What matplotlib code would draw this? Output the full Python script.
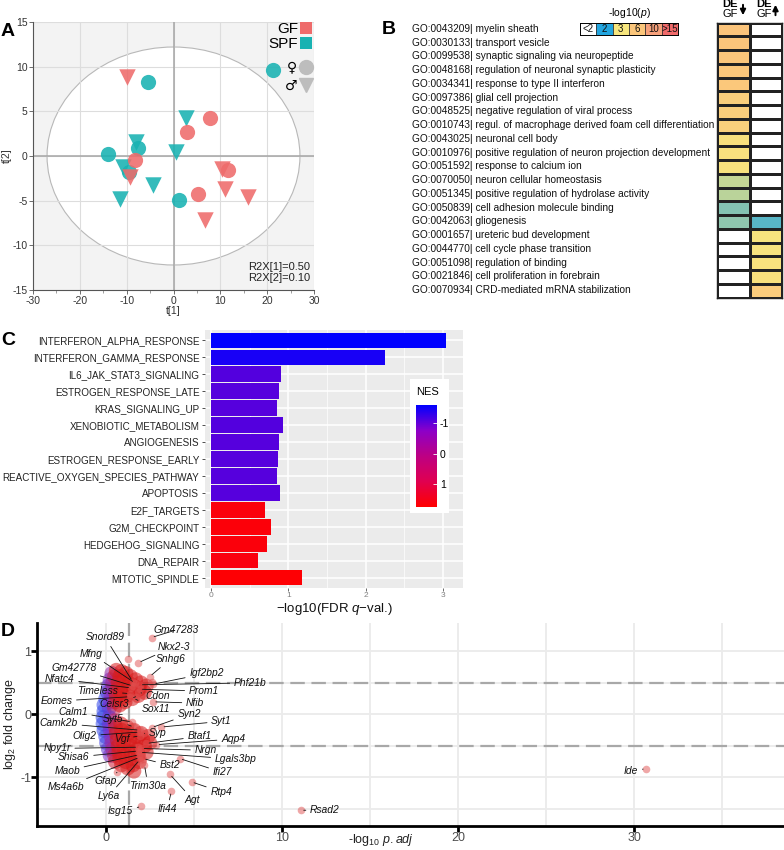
import numpy as np
import matplotlib
matplotlib.use("Agg")
import matplotlib.pyplot as plt
import matplotlib.cm as cm
from matplotlib.colors import LinearSegmentedColormap, Normalize, ListedColormap
from matplotlib.patches import Ellipse, Patch, FancyArrowPatch
from matplotlib.lines import Line2D
from matplotlib.transforms import blended_transform_factory

plt.rcParams['font.family'] = ['Liberation Sans', 'DejaVu Sans']
plt.rcParams['mathtext.fontset'] = 'custom'
plt.rcParams['mathtext.rm'] = 'Liberation Sans'
plt.rcParams['mathtext.it'] = 'Liberation Sans:italic'
plt.rcParams['mathtext.bf'] = 'Liberation Sans:bold'
plt.rcParams['axes.unicode_minus'] = False

# ---------------- Panel A data (PCA scores) ----------------
pca_t1 = [-9.9, -5.5, 2.7, 7.8, 2.8, -8.0, -7.6, -14.0, 0.6, -8.3, -10.8, -9.4,
          -9.3, 11.6, 10.4, -4.3, 11.1, 15.9, 5.2, 1.1, -11.5, 6.8, 21.2]
pca_t2 = [8.8, 8.3, 4.2, 4.2, 2.7, 1.6, 0.9, 0.2, 0.5, -0.45, -1.2, -1.75,
          -2.3, -1.6, -1.5, -3.2, -3.7, -4.6, -4.2, -4.9, -4.8, -7.2, 9.6]
pca_group = ['GF', 'SPF', 'SPF', 'GF', 'GF', 'SPF', 'SPF', 'SPF', 'SPF', 'GF', 'SPF', 'SPF',
             'GF', 'GF', 'GF', 'SPF', 'GF', 'GF', 'GF', 'SPF', 'SPF', 'GF', 'SPF']
pca_sex = ['M', 'F', 'M', 'F', 'F', 'M', 'F', 'F', 'M', 'F', 'M', 'F',
           'M', 'F', 'M', 'M', 'M', 'M', 'F', 'F', 'M', 'M', 'F']
hotelling_t1 = 27.0
hotelling_t2 = 12.2
r2x = [0.50, 0.10]

# ---------------- Panel B data (GO enrichment, -log10 p) ----------------
go_ids = ['GO:0043209', 'GO:0030133', 'GO:0099538', 'GO:0048168', 'GO:0034341',
          'GO:0097386', 'GO:0048525', 'GO:0010743', 'GO:0043025', 'GO:0010976',
          'GO:0051592', 'GO:0070050', 'GO:0051345', 'GO:0050839', 'GO:0042063',
          'GO:0001657', 'GO:0044770', 'GO:0051098', 'GO:0021846', 'GO:0070934']
go_terms = ['myelin sheath', 'transport vesicle', 'synaptic signaling via neuropeptide',
            'regulation of neuronal synaptic plasticity', 'response to type II interferon',
            'glial cell projection', 'negative regulation of viral process',
            'regul. of macrophage derived foam cell differentiation', 'neuronal cell body',
            'positive regulation of neuron projection development', 'response to calcium ion',
            'neuron cellular homeostasis', 'positive regulation of hydrolase activity',
            'cell adhesion molecule binding', 'gliogenesis', 'ureteric bud development',
            'cell cycle phase transition', 'regulation of binding',
            'cell proliferation in forebrain', 'CRD-mediated mRNA stabilization']
go_down = [6.2, 6.1, 6.0, 5.9, 5.8, 5.3, 5.2, 5.0, 3.6, 3.5, 3.4, 2.8, 2.75, 2.5, 2.55,
           0, 0, 0, 0, 0]
go_up = [0, 0, 0, 0, 0, 0, 0, 0, 0, 0, 0, 0, 0, 0, 2.3, 3.2, 3.3, 3.4, 3.6, 5.5]
p_levels = [2, 3, 6, 10, 15]
p_labels = ['<2', '2', '3', '6', '10', '>15']
p_colors = ['#ffffff', '#22a5df', '#f7e67e', '#fbc67b', '#f7a17b', '#f06a6a']

# ---------------- Panel C data (GSEA hallmarks) ----------------
hallmarks = ['INTERFERON_ALPHA_RESPONSE', 'INTERFERON_GAMMA_RESPONSE', 'IL6_JAK_STAT3_SIGNALING',
             'ESTROGEN_RESPONSE_LATE', 'KRAS_SIGNALING_UP', 'XENOBIOTIC_METABOLISM',
             'ANGIOGENESIS', 'ESTROGEN_RESPONSE_EARLY', 'REACTIVE_OXYGEN_SPECIES_PATHWAY',
             'APOPTOSIS', 'E2F_TARGETS', 'G2M_CHECKPOINT', 'HEDGEHOG_SIGNALING',
             'DNA_REPAIR', 'MITOTIC_SPINDLE']
fdr_q = [3.04, 2.25, 0.905, 0.875, 0.853, 0.926, 0.875, 0.861, 0.853, 0.887,
         0.698, 0.775, 0.724, 0.611, 1.176]
nes = [-1.6, -1.45, -1.1, -1.08, -1.08, -1.1, -1.08, -1.08, -1.08, -1.08,
       1.62, 1.65, 1.62, 1.6, 1.7]
nes_range = [-1.6, 1.75]

# ---------------- Panel D data (volcano, rotated) ----------------
cloud_x = [-0.1, -0.1, 0.0, 0.1, 0.15, 0.25, 0.35,
           0.2, 0.25, 0.3, 0.35, 0.4, 0.5, 0.6,
           0.5, 0.55, 0.6, 0.65, 0.7, 0.8, 0.9,
           0.8, 0.85, 0.9, 1.0, 1.05, 1.15,
           1.1, 1.2, 1.25, 1.3, 1.4,
           1.5, 1.55, 1.6, 1.7,
           1.85, 1.9, 2.0,
           2.2, 2.3,
           -0.15, -0.15, -0.1, 0.0, 0.05, 0.15, 0.25,
           0.2, 0.2, 0.25, 0.3, 0.35, 0.4, 0.5, 0.55,
           0.5, 0.55, 0.6, 0.65, 0.7, 0.75, 0.8, 0.9,
           0.85, 0.9, 0.95, 1.0, 1.05, 1.1, 1.15, 1.25,
           1.2, 1.3, 1.35, 1.4, 1.45, 1.5, 1.55, 1.6,
           1.6, 1.7, 1.75, 1.8, 1.85, 1.9,
           2.0, 2.1, 2.2, 2.3,
           2.4, 2.5]
cloud_y = [0.05, 0.15, 0.25, 0.35, 0.45, 0.55, 0.65,
           0.1, 0.2, 0.3, 0.4, 0.5, 0.6, 0.7,
           0.1, 0.2, 0.3, 0.4, 0.5, 0.6, 0.68,
           0.15, 0.25, 0.35, 0.45, 0.55, 0.65,
           0.2, 0.3, 0.4, 0.5, 0.6,
           0.25, 0.35, 0.45, 0.55,
           0.3, 0.4, 0.5,
           0.35, 0.45,
           -0.05, -0.15, -0.25, -0.35, -0.45, -0.55, -0.65,
           -0.05, -0.15, -0.25, -0.35, -0.45, -0.55, -0.65, -0.75,
           -0.1, -0.2, -0.3, -0.4, -0.5, -0.6, -0.7, -0.8,
           -0.15, -0.25, -0.35, -0.45, -0.55, -0.65, -0.75, -0.85,
           -0.2, -0.3, -0.4, -0.5, -0.6, -0.7, -0.8, -0.9,
           -0.25, -0.35, -0.45, -0.55, -0.65, -0.75,
           -0.3, -0.4, -0.5, -0.6,
           -0.35, -0.45]
extra_x = [1.27, 2.6]
extra_y = [0.88, 0.52]
genes = ['Gm47283', 'Snord89', 'Nkx2-3', 'Mfng', 'Snhg6', 'Gm42778', 'Igf2bp2', 'Nfatc4',
         'Phf21b', 'Prom1', 'Timeless', 'Cdon', 'Eomes', 'Nfib', 'Celsr3', 'Sox11', 'Calm1',
         'Syn2', 'Syt5', 'Syt1', 'Camk2b', 'Syp', 'Olig2', 'Btaf1', 'Vgf', 'Aqp4', 'Npy1r',
         'Nrgn', 'Shisa6', 'Lgals3bp', 'Bst2', 'Maob', 'Ifi27', 'Gfap', 'Ms4a6b', 'Trim30a',
         'Rtp4', 'Ly6a', 'Agt', 'Ifi44', 'Isg15', 'Ide', 'Rsad2']
gene_padj = [2.6, 1.53, 1.85, 1.65, 2.5, 1.55, 2.69, 1.45,
             1.93, 1.93, 1.36, 1.85, 1.36, 2.69, 1.7, 1.7, 1.5,
             2.6, 1.6, 3.16, 1.93, 2.2, 1.93, 2.31, 1.93, 2.88, 1.85,
             2.03, 1.85, 1.93, 2.12, 1.9, 4.2, 0.64, 1.93, 2.2,
             4.87, 1.93, 3.64, 3.73, 2.03, 30.66, 11.08]
gene_lfc = [1.22, 0.52, 0.82, 0.50, 0.60, 0.45, 0.48, 0.42,
            0.47, 0.40, 0.33, 0.35, 0.28, 0.20, 0.28, 0.24, -0.12,
            -0.21, -0.2, -0.2, -0.25, -0.3, -0.28, -0.46, -0.34, -0.48, -0.52,
            -0.54, -0.58, -0.6, -0.7, -0.64, -0.70, -0.92, -0.68, -0.8,
            -1.07, -0.72, -0.95, -1.22, -1.46, -0.86, -1.52]
label_x = [4.0, -0.03, 3.85, -0.81, 3.68, -1.81, 5.72, -2.61,
           8.2, 5.57, -0.44, 2.97, -2.8, 5.07, 0.51, 2.83, -1.86,
           4.73, 0.44, 6.57, -2.66, 2.95, -1.19, 5.32, 0.91, 7.23, -2.76,
           5.67, -1.81, 7.38, 3.64, -2.19, 6.62, -0.01, -2.26, 2.4,
           6.55, 0.18, 4.94, 3.49, 0.84, 29.82, 12.44]
label_y = [1.34, 1.22, 1.07, 0.96, 0.88, 0.74, 0.65, 0.56,
           0.5, 0.37, 0.37, 0.29, 0.21, 0.18, 0.16, 0.09, 0.04,
           0.0, -0.08, -0.11, -0.14, -0.3, -0.34, -0.35, -0.39, -0.39, -0.54,
           -0.57, -0.68, -0.71, -0.81, -0.89, -0.92, -1.05, -1.15, -1.13,
           -1.23, -1.29, -1.35, -1.5, -1.54, -0.9, -1.52]
lfc_threshold = 0.5
padj_threshold = 1.3

# ---------------- figure ----------------
W, H = 784, 850
fig = plt.figure(figsize=(W / 100, H / 100), dpi=100)


def box(x0, y0, x1, y1):
    return [x0 / W, 1 - y1 / H, (x1 - x0) / W, (y1 - y0) / H]


def fx(x):
    return x / W


def fy(y):
    return 1 - y / H


# ======== Panel A ========
axA = fig.add_axes(box(33, 22, 314, 290))
axA.set_facecolor('#f3f3f3')
axA.set_xlim(-30, 30)
axA.set_ylim(-15, 15)
axA.add_patch(Ellipse((0, 0), 2 * hotelling_t1, 2 * hotelling_t2, facecolor='white',
                      edgecolor='#b8b8b8', lw=0.8, zorder=0.1))
axA.set_axisbelow(True)
axA.set_xticks(range(-30, 31, 10))
axA.set_xticks(range(-25, 30, 10), minor=True)
axA.set_yticks(range(-15, 16, 5))
axA.grid(True, which='major', color='#dddddd', lw=0.8)
axA.axhline(0, color='#a5a5a5', lw=1.1, zorder=0.6)
axA.axvline(0, color='#a5a5a5', lw=1.1, zorder=0.6)
for sp in ['top', 'right']:
    axA.spines[sp].set_visible(False)
for sp in ['left', 'bottom']:
    axA.spines[sp].set_color('#555555')
    axA.spines[sp].set_linewidth(0.8)
axA.tick_params(labelsize=7.5, length=3, width=0.6, color='#555555', pad=1, labelcolor='#333333')
axA.tick_params(which='minor', length=2, width=0.5, color='#777777')
axA.set_xlabel('t[1]', fontsize=7.5, labelpad=0, color='#333333')
axA.set_ylabel('t[2]', fontsize=7.5, labelpad=0, color='#333333')
colA = {'GF': '#ee6b6b', 'SPF': '#18b2b2'}
mkA = {'F': 'o', 'M': 'v'}
szA = {'F': 120, 'M': 140}
t1 = np.array(pca_t1)
t2 = np.array(pca_t2)
grp = np.array(pca_group)
sex = np.array(pca_sex)
for g in ['SPF', 'GF']:
    for s in ['F', 'M']:
        m = (grp == g) & (sex == s)
        axA.scatter(t1[m], t2[m], s=szA[s], marker=mkA[s], color=colA[g], alpha=0.88,
                    lw=0, zorder=3)
h1 = [Patch(facecolor=colA['GF'], label='GF'), Patch(facecolor=colA['SPF'], label='SPF')]
leg1 = axA.legend(handles=h1, loc='upper right', bbox_to_anchor=(1.0, 1.005), frameon=False,
                  markerfirst=False, fontsize=11, handlelength=0.8, handleheight=0.8,
                  handletextpad=0.15, labelspacing=0.05, borderaxespad=0.0, borderpad=0.1)
axA.add_artist(leg1)
h2 = [Line2D([], [], marker='o', ls='', color='#bdbdbd', ms=10, label='\u2640'),
      Line2D([], [], marker='v', ls='', color='#bdbdbd', ms=10, label='\u2642')]
axA.legend(handles=h2, loc='upper right', bbox_to_anchor=(1.0, 0.862), frameon=False,
           markerfirst=False, prop={'family': 'DejaVu Sans', 'size': 10}, handlelength=1.0,
           handletextpad=0.1, labelspacing=0.3, borderaxespad=0.0, borderpad=0.1)
axA.text(0.985, 0.025, 'R2X[1]=%.2f\nR2X[2]=%.2f' % (r2x[0], r2x[1]), transform=axA.transAxes,
         ha='right', va='bottom', fontsize=8, color='#222222', linespacing=1.1)
fig.text(fx(8), fy(31), 'A', fontsize=14, weight='bold', ha='center', va='center')

# ======== Panel B ========
cmapB = LinearSegmentedColormap.from_list(
    'go', [(0.0, p_colors[1]), ((3 - 2) / 13, p_colors[2]), ((6 - 2) / 13, p_colors[3]),
           ((10 - 2) / 13, p_colors[4]), (1.0, p_colors[5])])
cmapB.set_under('white')
normB = Normalize(vmin=p_levels[0], vmax=p_levels[-1])
axB = fig.add_axes(box(717, 22.7, 782, 297.7))
matB = np.array([go_down, go_up]).T
axB.pcolormesh(np.arange(3), np.arange(len(go_ids) + 1), matB, cmap=cmapB, norm=normB,
               edgecolors='#222222', linewidth=0.9)
axB.set_xlim(0, 2)
axB.set_ylim(len(go_ids), 0)
axB.set_xticks([])
axB.set_yticks([])
for sp in axB.spines.values():
    sp.set_linewidth(1.0)
    sp.set_color('#222222')
trB = blended_transform_factory(fig.transFigure, axB.transData)
for i, (gid, term) in enumerate(zip(go_ids, go_terms)):
    axB.text(fx(412), i + 0.45, '%s| %s' % (gid, term), transform=trB, ha='left', va='center',
             fontsize=7.3, color='#111111')
fig.text(fx(730), fy(4), 'DE', fontsize=8, weight='bold', ha='center', va='center')
fig.text(fx(730), fy(14), 'GF', fontsize=8, ha='center', va='center')
fig.text(fx(764), fy(4), 'DE', fontsize=8, weight='bold', ha='center', va='center')
fig.text(fx(764), fy(14), 'GF', fontsize=8, ha='center', va='center')
fig.add_artist(FancyArrowPatch((fx(743), fy(2)), (fx(743), fy(18)),
               transform=fig.transFigure, arrowstyle='-|>', mutation_scale=8, lw=1.4,
               color='black'))
fig.add_artist(FancyArrowPatch((fx(775.5), fy(18)), (fx(775.5), fy(2)),
               transform=fig.transFigure, arrowstyle='-|>', mutation_scale=8, lw=1.4,
               color='black'))
axL = fig.add_axes(box(580, 22.7, 678, 35))
axL.imshow(np.arange(len(p_labels))[None, :], cmap=ListedColormap(p_colors), aspect='auto')
for k in range(len(p_labels) - 1):
    axL.axvline(k + 0.5, color='#333333', lw=0.6)
for k, lab in enumerate(p_labels):
    axL.text(k, 0, lab, ha='center', va='center', fontsize=7, color='#111111')
axL.set_xticks([])
axL.set_yticks([])
for sp in axL.spines.values():
    sp.set_linewidth(0.7)
fig.text(fx(629), fy(13), '-log10($p$)', fontsize=7.5, ha='center', va='center')
fig.text(fx(389), fy(30), 'B', fontsize=14, weight='bold', ha='center', va='center')

# ======== Panel C ========
cmapNES = LinearSegmentedColormap.from_list(
    'nes', ['#0000ff', '#8c00c8', '#bd0083', '#e00050', '#ff0000'])
normNES = Normalize(vmin=nes_range[0], vmax=nes_range[1])
axC = fig.add_axes(box(205, 330, 463, 588))
axC.set_facecolor('#ebebeb')
yC = np.arange(len(hallmarks))
axC.barh(yC, fdr_q, height=0.9, color=cmapNES(normNES(np.array(nes))), zorder=2)
axC.set_ylim(len(hallmarks) - 0.4, -0.6)
axC.set_xlim(-0.08, 3.26)
axC.set_yticks(yC)
axC.set_yticklabels(hallmarks)
axC.set_xticks([0, 1, 2, 3])
axC.set_xticks([0.5, 1.5, 2.5], minor=True)
axC.set_axisbelow(True)
axC.grid(which='major', color='white', lw=1.1)
axC.grid(which='minor', axis='x', color='white', lw=0.5)
for sp in axC.spines.values():
    sp.set_visible(False)
axC.tick_params(axis='y', labelsize=7.1, length=2.5, width=0.6, color='#333333',
                labelcolor='#222222', pad=1.5)
axC.tick_params(axis='x', labelsize=6, length=2, width=0.6, color='#555555',
                labelcolor='#808080', pad=1)
axC.tick_params(which='minor', length=0)
axC.set_xlabel(r'$-$log10(FDR $q$$-$val.)', fontsize=9.5, labelpad=1, color='#111111')
axNb = fig.add_axes(box(410, 379, 449, 513))
axNb.set_xticks([])
axNb.set_yticks([])
for sp in axNb.spines.values():
    sp.set_visible(False)
axNb.set_facecolor('white')
cax = fig.add_axes(box(416, 405, 437, 507))
cb = fig.colorbar(cm.ScalarMappable(norm=normNES, cmap=cmapNES), cax=cax)
cb.set_ticks([-1, 0, 1])
cax.invert_yaxis()
cb.outline.set_visible(False)
cax.tick_params(labelsize=7.5, length=3, width=0.6, color='white', direction='in', pad=2)
fig.text(fx(416), fy(392), 'NES', fontsize=8, ha='left', va='center')
fig.text(fx(8), fy(341), 'C', fontsize=14, weight='bold', ha='center', va='center')

# ======== Panel D ========
axD = fig.add_axes(box(37, 623, 784, 826))
axD.set_xlim(-3.9, 38.5)
axD.set_ylim(-1.77, 1.45)
axD.set_xticks([0, 10, 20, 30])
axD.set_xticks([5, 15, 25, 35], minor=True)
axD.set_yticks([-1, 0, 1])
axD.set_yticks([-1.5, -0.5, 0.5], minor=True)
axD.set_axisbelow(True)
axD.grid(which='both', color='#ebebeb', lw=1.3)
for sp in ['top', 'right']:
    axD.spines[sp].set_visible(False)
for sp in ['left', 'bottom']:
    axD.spines[sp].set_linewidth(2.0)
    axD.spines[sp].set_color('black')
axD.tick_params(which='major', length=4, width=2, color='black', labelsize=9,
                labelcolor='#4d4d4d', pad=0)
axD.tick_params(which='minor', length=0)
axD.axvline(padj_threshold, color='#a8a8a8', lw=1.6, ls=(0, (6.5, 3)), zorder=1)
axD.axhline(lfc_threshold, color='#a8a8a8', lw=1.6, ls=(0, (6.5, 3)), zorder=1)
axD.axhline(-lfc_threshold, color='#a8a8a8', lw=1.6, ls=(0, (6.5, 3)), zorder=1)
cmapD = LinearSegmentedColormap.from_list('cl', ['#3347e6', '#8a2cc0', '#d81b1b', '#d81b1b'])
axD.scatter(cloud_x, cloud_y, c=cloud_x, cmap=cmapD, norm=Normalize(0.0, 0.9), s=115,
            alpha=0.55, lw=0, zorder=2)
axD.scatter(extra_x, extra_y, color='#e05050', alpha=0.5, s=30, lw=0, zorder=3)
axD.scatter(gene_padj, gene_lfc, color='#e05050', alpha=0.5, s=30, lw=0, zorder=3)
for g, px, py, lx, ly in zip(genes, gene_padj, gene_lfc, label_x, label_y):
    axD.annotate(g, xy=(px, py), xytext=(lx, ly), ha='center', va='center', fontsize=7.4,
                 style='italic', color='#111111', zorder=5,
                 arrowprops=dict(arrowstyle='-', lw=0.6, color='#111111', shrinkA=1,
                                 shrinkB=2))
axD.set_ylabel(r'log$_2$ fold change', fontsize=9, labelpad=2, color='#222222')
trD = blended_transform_factory(axD.transData, fig.transFigure)
axD.text(15.6, fy(840), r'-log$_{10}$ $p.adj$', transform=trD, ha='center', va='center',
         fontsize=9, color='#222222')
fig.text(fx(8), fy(631), 'D', fontsize=14, weight='bold', ha='center', va='center')

fig.savefig('out.png', dpi=100)
